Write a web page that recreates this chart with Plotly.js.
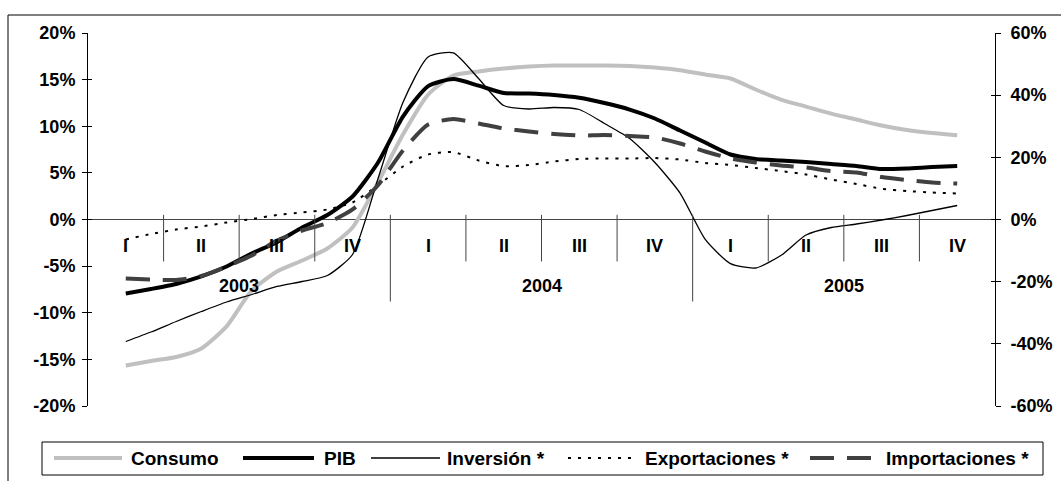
<!DOCTYPE html>
<html>
<head>
<meta charset="utf-8">
<script src="https://cdn.plot.ly/plotly-3.0.1.min.js"></script>
<style>html,body{margin:0;padding:0;background:#fff;}#chart{width:1061px;height:481px;}</style>
</head>
<body>
<div id="chart"></div>
<script>
// ---- data (monthly, Feb 2003 .. Nov 2005), values in % ----
const months = ['2003-02','2003-03','2003-04','2003-05','2003-06','2003-07','2003-08','2003-09','2003-10','2003-11','2003-12',
  '2004-01','2004-02','2004-03','2004-04','2004-05','2004-06','2004-07','2004-08','2004-09','2004-10','2004-11','2004-12',
  '2005-01','2005-02','2005-03','2005-04','2005-05','2005-06','2005-07','2005-08','2005-09','2005-10','2005-11'];
const consumo = [-15.65,-15.17,-14.74,-13.83,-11.47,-7.61,-5.57,-4.40,-3.11,-0.86,3.91,9.11,13.40,15.44,15.87,16.19,16.40,16.51,
  16.51,16.51,16.46,16.29,16.0,15.54,15.12,13.94,12.86,12.11,11.36,10.72,10.08,9.59,9.27,9.04];
const pib = [-7.93,-7.45,-6.91,-6.11,-5.04,-3.64,-2.43,-0.86,0.48,2.47,6.06,11.04,14.31,15.06,14.36,13.56,13.51,13.35,13.05,
  12.49,11.79,10.83,9.54,8.25,6.97,6.49,6.32,6.16,5.95,5.74,5.41,5.47,5.63,5.74];
const inversion = [-39.25,-36.19,-32.81,-29.6,-26.54,-24.13,-21.55,-19.95,-18.02,-11.26,12.87,37.64,52.3,53.6,45.36,36.67,35.55,
  36.03,35.39,30.88,26.06,18.34,8.5,-6.4,-14.2,-15.6,-11.6,-4.99,-2.57,-1.45,-0.16,1.29,2.9,4.5];
const exportaciones = [-6.43,-4.66,-3.22,-2.25,-0.97,0.16,1.45,2.25,3.22,5.47,10.94,17.05,20.91,21.71,18.98,17.15,17.53,18.66,
  19.46,19.62,19.62,19.78,19.3,18.18,17.53,16.57,15.6,14.48,12.87,11.42,9.88,9.17,8.69,8.36];
const importaciones = [-18.98,-19.3,-19.46,-18.18,-15.12,-11.58,-6.76,-3.54,-1.13,3.22,10.94,22.2,30.56,32.33,30.88,29.27,28.31,
  27.51,27.02,27.18,26.86,26.38,24.45,21.88,19.62,18.34,17.37,16.73,15.6,15.12,13.67,12.71,11.9,11.58];

const quarters = ['I','II','III','IV'];
const years = ['2003','2004','2005'];
const leftTicks = [-20,-15,-10,-5,0,5,10,15,20];
const leftTickText = ['-20%','-15%','-10%','-5%','0%','5%','10%','15%','20%'];
const rightTicks = [-60,-40,-20,0,20,40,60];
const rightTickText = ['-60%','-40%','-20%','0%','20%','40%','60%'];

const seriesNames = ['Consumo','PIB','Inversión *','Exportaciones *','Importaciones *'];

// ---- layout geometry ----
const W = 1061, H = 481;
const M = {l:88, r:66, t:33, b:75};
const PW = W - M.l - M.r, PH = H - M.t - M.b;
const px2x = px => (px - M.l) / PW;
const py2y = py => (H - M.b - py) / PH;
const FONT = '"Liberation Sans", Arial, sans-serif';

// month i (Feb 2003 = index 0) sits in the middle of its month slot; Jan 2003 slot starts at 0
const xpos = months.map((m, i) => i + 1.5);

const styles = [
  {color:'#c0c0c0', width:4, dash:'solid'},
  {color:'#000000', width:4, dash:'solid'},
  {color:'#000000', width:1.3, dash:'solid'},
  {color:'#000000', width:2, dash:'3px,7px'},
  {color:'#404040', width:4, dash:'24px,13px'}
];
const values = [consumo, pib, inversion, exportaciones, importaciones];
const axes = ['y','y','y2','y2','y2'];

const traces = values.map((v, i) => ({
  type:'scatter', mode:'lines', name: seriesNames[i], x: xpos, y: v, yaxis: axes[i],
  line:{color: styles[i].color, width: styles[i].width, dash: styles[i].dash, shape:'spline', smoothing:0.6},
  showlegend:false, hoverinfo:'x+y+name'
}));
// empty traces only to host the inner tick marks of the crossing ticks
traces.unshift({type:'scatter', x:[], y:[], yaxis:'y3', showlegend:false, hoverinfo:'skip'});
traces.unshift({type:'scatter', x:[], y:[], yaxis:'y4', showlegend:false, hoverinfo:'skip'});

// ---- decorations: quarter/year separators and labels ----
const shapes = [];
const annotations = [];
const QLABEL_Y = -2.84, YLABEL_Y = -7.18, SEP_TOP = 0.5, SEP_Q = -4.5, SEP_Y = -8.8;
for (let q = 1; q < 12; q++) {
  const isYear = q % 4 === 0;
  shapes.push({type:'line', xref:'x', yref:'y', x0:q*3, x1:q*3, y0:SEP_TOP, y1: isYear ? SEP_Y : SEP_Q,
    line:{color:'#444444', width:1}});
}
for (let q = 0; q < 12; q++) {
  annotations.push({xref:'x', yref:'y', x:q*3+1.5, y:QLABEL_Y, text:quarters[q%4], showarrow:false,
    font:{family:FONT, size:18, color:'#000', weight:'bold'}, xanchor:'center', yanchor:'middle'});
}
years.forEach((yr, i) => {
  annotations.push({xref:'x', yref:'y', x:i*12+6, y:YLABEL_Y, text:yr, showarrow:false,
    font:{family:FONT, size:18, color:'#000', weight:'bold'}, xanchor:'center', yanchor:'middle'});
});

// outer chart frame
shapes.push({type:'rect', xref:'paper', yref:'paper', x0:px2x(8), x1:px2x(1075), y0:py2y(15), y1:py2y(495),
  line:{color:'#000', width:1}, fillcolor:'rgba(0,0,0,0)', layer:'below'});

// legend box
shapes.push({type:'rect', xref:'paper', yref:'paper', x0:px2x(42), x1:px2x(1043), y0:py2y(442), y1:py2y(475),
  line:{color:'#000', width:1}, fillcolor:'#fff', layer:'below'});
const legLines = [[54,122],[243,314],[371,440],[568,635],[810,873]];
const legText = [129,322,445,643,884];
const LEG_Y = 458;
legLines.forEach((ll, i) => {
  shapes.push({type:'line', xref:'paper', yref:'paper', x0:px2x(ll[0]), x1:px2x(ll[1]), y0:py2y(LEG_Y), y1:py2y(LEG_Y),
    line:{color:styles[i].color, width:styles[i].width, dash:styles[i].dash}});
  annotations.push({xref:'paper', yref:'paper', x:px2x(legText[i]), y:py2y(LEG_Y), text:seriesNames[i], showarrow:false,
    xanchor:'left', yanchor:'middle', font:{family:FONT, size:19, color:'#000', weight:'bold'}});
});

const tickFont = {family:FONT, size:18, color:'#000', weight:'bold'};
const layout = {
  width:W, height:H, margin:M, paper_bgcolor:'#fff', plot_bgcolor:'rgba(0,0,0,0)',
  font:{family:FONT},
  xaxis:{range:[0,36], visible:false, fixedrange:true},
  yaxis:{range:[-20,20], tickvals:leftTicks, ticktext:leftTickText, showgrid:false, zeroline:true,
    zerolinecolor:'#444444', zerolinewidth:1, showline:true, linecolor:'#000', linewidth:1,
    ticks:'outside', ticklen:5, tickcolor:'#000', tickfont:tickFont, ticklabelstandoff:3},
  yaxis2:{range:[-60,60], overlaying:'y', side:'right', tickvals:rightTicks, ticktext:rightTickText,
    showgrid:false, zeroline:false, showline:true, linecolor:'#000', linewidth:1,
    ticks:'outside', ticklen:5, tickcolor:'#000', tickfont:tickFont, ticklabelstandoff:6},
  yaxis3:{range:[-20,20], overlaying:'y', side:'left', tickvals:leftTicks, showticklabels:false,
    showgrid:false, zeroline:false, showline:false, ticks:'inside', ticklen:4, tickcolor:'#000'},
  yaxis4:{range:[-60,60], overlaying:'y', side:'right', tickvals:rightTicks, showticklabels:false,
    showgrid:false, zeroline:false, showline:false, ticks:'inside', ticklen:4, tickcolor:'#000'},
  shapes: shapes, annotations: annotations, showlegend:false
};

Plotly.newPlot('chart', traces, layout, {staticPlot:true, displayModeBar:false});
</script>
</body>
</html>
